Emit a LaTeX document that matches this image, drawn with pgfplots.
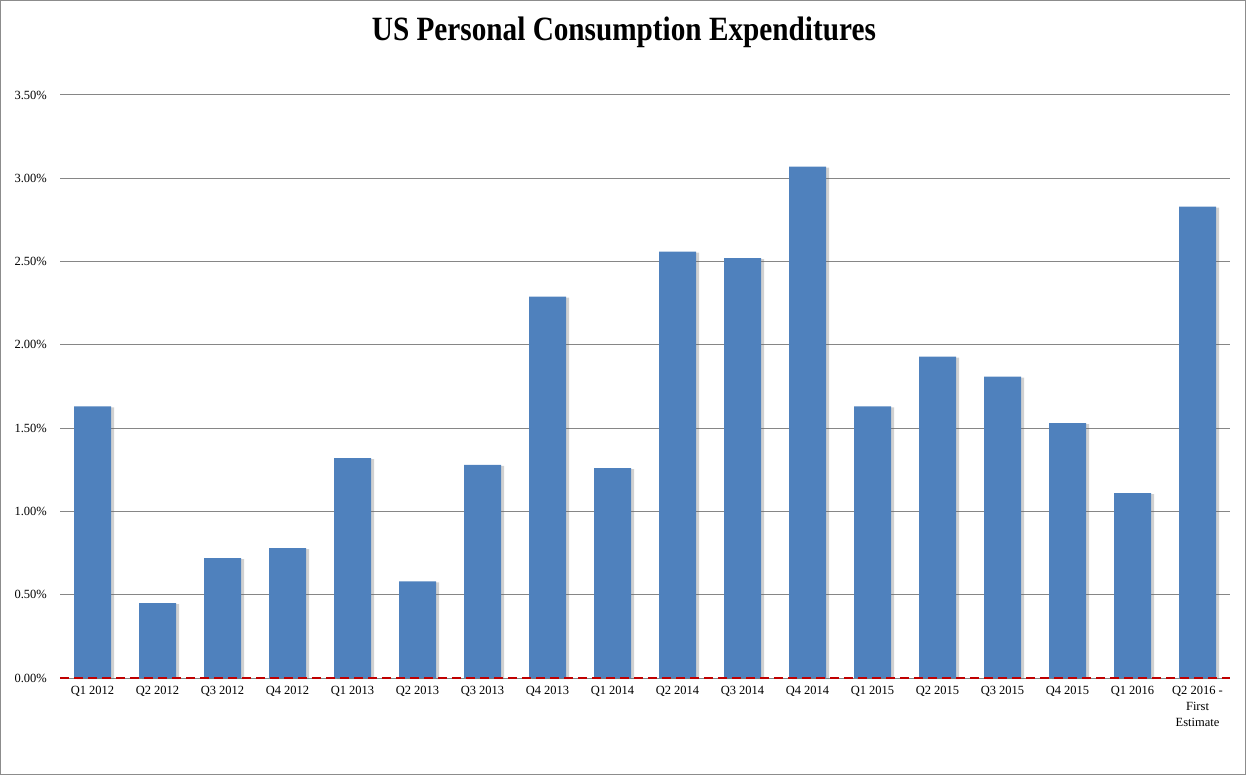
\documentclass[border=0pt]{standalone}
\usepackage{fontspec}
\setmainfont{Liberation Serif}
\newfontfamily\titlefont[FakeStretch=0.86]{Liberation Serif}
\usepackage{pgfplots}
\pgfplotsset{compat=1.18}
\usetikzlibrary{shadows}

\definecolor{barblue}{HTML}{4F81BD}
\definecolor{gridgray}{HTML}{868686}
\definecolor{zerored}{HTML}{C00000}
\definecolor{framegray}{HTML}{8C8C8C}

\begin{document}
\begin{tikzpicture}
\begin{axis}[
  width=1170pt, height=583pt, scale only axis,
  xmin=-0.5, xmax=17.5,
  ymin=0, ymax=3.5,
  clip=false,
  axis line style={draw=none},
  tick style={draw=none},
  ymajorgrids,
  grid style={gridgray, line width=1pt},
  ytick={0,0.5,1,1.5,2,2.5,3,3.5},
  /pgf/number format/assume math mode=true,
  yticklabel={\pgfmathprintnumber[fixed,fixed zerofill,precision=2]{\tick}\%},
  yticklabel style={anchor=east, inner sep=0pt, xshift=-13pt, font=\fontsize{12.5}{14}\selectfont},
  xtick=data,
  xticklabels={Q1 2012,Q2 2012,Q3 2012,Q4 2012,Q1 2013,Q2 2013,Q3 2013,Q4 2013,
    Q1 2014,Q2 2014,Q3 2014,Q4 2014,Q1 2015,Q2 2015,Q3 2015,Q4 2015,Q1 2016,
    {Q2 2016 -\\First\\Estimate}},
  xticklabel style={anchor=north, inner sep=0pt, yshift=-8pt, align=center,
    font=\fontsize{12.5}{16}\selectfont},
]
\addplot[ybar, bar width=37pt, bar shift=0pt, fill=barblue, draw=none,
  drop shadow={shadow xshift=3pt, shadow yshift=-1pt, opacity=0.3, fill=black!60}]
  coordinates {
  (0,1.63) (1,0.45) (2,0.72) (3,0.78) (4,1.32) (5,0.58) (6,1.28) (7,2.29)
  (8,1.26) (9,2.56) (10,2.52) (11,3.07) (12,1.63) (13,1.93) (14,1.81)
  (15,1.53) (16,1.11) (17,2.83)
  };
\addplot[zerored, line width=2.5pt, dash pattern=on 9pt off 5pt, mark=none]
  coordinates {(-0.5,0) (17.5,0)};
\node[font=\titlefont\bfseries\fontsize{34}{40}\selectfont]
  at (rel axis cs:0.482,1.108) {US Personal Consumption Expenditures};
\draw[framegray, line width=1pt]
  (rel axis cs:-0.05085,-0.16552) rectangle (rel axis cs:1.01325,1.16209);
\end{axis}
\end{tikzpicture}
\end{document}
